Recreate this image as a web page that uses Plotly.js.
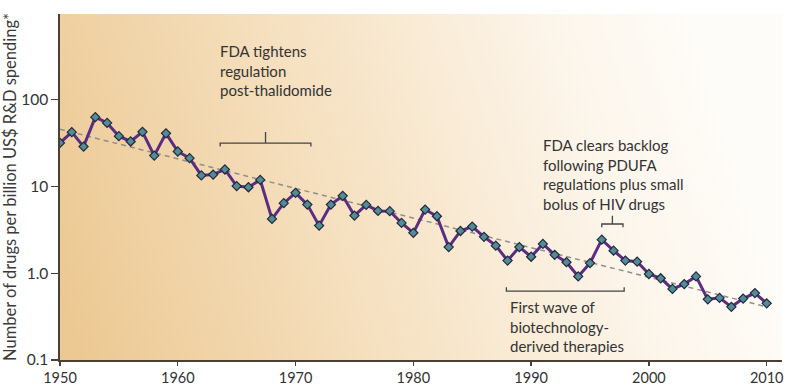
<!DOCTYPE html>
<html>
<head>
<meta charset="utf-8">
<script src="https://cdn.plot.ly/plotly-3.0.1.min.js"></script>
<style>
html,body{margin:0;padding:0;background:#fff;}
#chart{width:795px;height:386px;}
</style>
</head>
<body>
<div id="chart"></div>
<script>
// ---- data ----
const years = [1950,1951,1952,1953,1954,1955,1956,1957,1958,1959,
               1960,1961,1962,1963,1964,1965,1966,1967,1968,1969,
               1970,1971,1972,1973,1974,1975,1976,1977,1978,1979,
               1980,1981,1982,1983,1984,1985,1986,1987,1988,1989,
               1990,1991,1992,1993,1994,1995,1996,1997,1998,1999,
               2000,2001,2002,2003,2004,2005,2006,2007,2008,2009,2010];
const drugsPerBillion = [31.8,42.3,28.8,63,54,38,33,42.6,22.7,41,
                         25.3,21.2,13.4,13.7,15.7,10.1,9.8,11.9,4.23,6.42,
                         8.44,6.18,3.54,6.18,7.8,4.62,6.13,5.23,5.19,3.80,
                         2.92,5.42,4.54,2.0,3.07,3.45,2.63,2.08,1.40,2.0,
                         1.55,2.18,1.63,1.34,0.92,1.31,2.44,1.82,1.40,1.36,
                         0.98,0.875,0.66,0.75,0.92,0.50,0.52,0.41,0.51,0.59,0.45];
const trendYears = [1950, 2010];
const trendValues = [45.7, 0.41];
const referenceLevel = 1.0;
const xTickVals = [1950,1960,1970,1980,1990,2000,2010];
const xTickText = ["1950","1960","1970","1980","1990","2000","2010"];
const yTickVals = [0.1,1,10,100];
const yTickText = ["0.1","1.0","10","100"];
const yTitle = "Number of drugs per billion US$ R&amp;D spending*";
const noteTexts = ["FDA tightens<br>regulation<br>post-thalidomide",
                   "FDA clears backlog<br>following PDUFA<br>regulations plus small<br>bolus of HIV drugs",
                   "First wave of<br>biotechnology-<br>derived therapies"];
// bracket spans (years)
const bracketStart = [1963.6, 1996.0, 1987.9];
const bracketEnd   = [1971.3, 1997.8, 1997.9];

// ---- background gradient (style) ----
function gradientURL(){
  const w = 722, h = 346;
  const c = document.createElement('canvas');
  c.width = w; c.height = h;
  const ctx = c.getContext('2d');
  const g = ctx.createLinearGradient(0, h*0.8, w*0.9, h*0.2);
  g.addColorStop(0, '#ecc993');
  g.addColorStop(0.45, '#f6e2c3');
  g.addColorStop(0.8, '#fcf5ea');
  g.addColorStop(1, '#fefcf8');
  ctx.fillStyle = g;
  ctx.fillRect(0, 0, w, h);
  return c.toDataURL('image/png');
}

const FONT = 'Lato, "Open Sans", sans-serif';
const textColor = '#333333';
const axisColor = '#4a4034';

const traces = [
  {
    x: trendYears, y: trendValues, mode: 'lines', type: 'scatter',
    line: {color: '#8f8f8f', width: 1.5, dash: '5px,4px'},
    hoverinfo: 'skip', showlegend: false
  },
  {
    x: years, y: drugsPerBillion, mode: 'lines+markers', type: 'scatter',
    line: {color: '#5a2d82', width: 3},
    marker: {symbol: 'diamond', size: 7, color: '#4f8e96',
             line: {color: '#26263c', width: 1.2}},
    showlegend: false
  }
];

// bracket shapes
const yb = [ {base: 0.627, ends: 0.617, mid: 0.659},
             {base: 0.393, ends: 0.384, mid: 0.417},
             {base: 0.199, ends: 0.210, mid: null} ];
const shapes = [
  {type: 'line', xref: 'paper', yref: 'y', x0: 0, x1: 1,
   y0: Math.log10(referenceLevel), y1: Math.log10(referenceLevel),
   line: {color: '#111111', width: 2, dash: '6px,4px'}, layer: 'below'}
];
bracketStart.forEach((s, i) => {
  const e = bracketEnd[i], b = yb[i];
  let p = `M${s},${b.ends} L${s},${b.base} L${e},${b.base} L${e},${b.ends}`;
  if (b.mid !== null) { const m = (s+e)/2; p += ` M${m},${b.base} L${m},${b.mid}`; }
  shapes.push({type: 'path', xref: 'x', yref: 'paper', path: p,
               line: {color: '#444444', width: 1.3}});
});

const annotations = [
  {x: 1963.4, y: 0.838, text: noteTexts[0]},
  {x: 1990.8, y: 0.535, text: noteTexts[1]},
  {x: 1988.0, y: 0.098, text: noteTexts[2]}
].map(a => Object.assign(a, {
  xref: 'x', yref: 'paper', xanchor: 'left', yanchor: 'middle', align: 'left',
  showarrow: false, font: {family: FONT, size: 15, color: textColor}
}));

const layout = {
  width: 795, height: 386,
  margin: {l: 60, r: 13, t: 14, b: 26, pad: 0},
  paper_bgcolor: '#ffffff',
  plot_bgcolor: 'rgba(0,0,0,0)',
  font: {family: FONT, color: textColor, size: 15},
  xaxis: {
    range: [1950, 2011.3], tickvals: xTickVals, ticktext: xTickText,
    showgrid: false, zeroline: false, showline: true, linecolor: axisColor, linewidth: 1.6,
    ticks: 'outside', ticklen: 4, tickwidth: 1.3, tickcolor: axisColor,
    tickfont: {family: FONT, size: 14.5, color: textColor}, ticklabelstandoff: 0
  },
  yaxis: {
    type: 'log', range: [-1, 2.988], tickvals: yTickVals, ticktext: yTickText,
    showgrid: false, zeroline: false, showline: true, linecolor: axisColor, linewidth: 1.6,
    ticks: 'outside', ticklen: 7, tickwidth: 1.3, tickcolor: axisColor,
    tickfont: {family: FONT, size: 15.5, color: textColor},
    title: {text: yTitle, font: {family: FONT, size: 16.5, color: '#3a3a3a'}, standoff: 0}
  },
  images: [{source: gradientURL(), xref: 'paper', yref: 'paper', x: 0, y: 1,
            sizex: 1, sizey: 1, sizing: 'stretch', xanchor: 'left', yanchor: 'top',
            layer: 'below'}],
  shapes: shapes,
  annotations: annotations,
  hovermode: false
};

Plotly.newPlot('chart', traces, layout, {displayModeBar: false, staticPlot: true});
</script>
</body>
</html>
